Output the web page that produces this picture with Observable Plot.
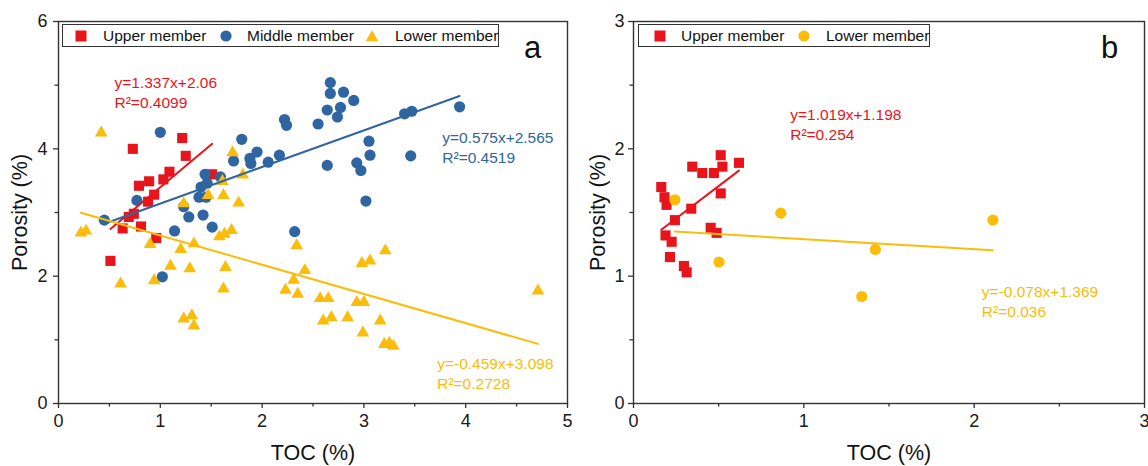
<!DOCTYPE html>
<html><head><meta charset="utf-8">
<script src="https://cdn.jsdelivr.net/npm/d3@7"></script>
<script src="https://cdn.jsdelivr.net/npm/@observablehq/plot@0.6"></script>
<style>
body{margin:0;background:#fff;font-family:"Liberation Sans",Arial,Helvetica,sans-serif;}
#wrap{position:relative;width:1148px;height:466px;display:flex;overflow:hidden;}
.legend{position:absolute;box-sizing:border-box;border:1.3px solid #333;height:23px;top:24px;background:#fff;}
.legend .sym{position:absolute;top:50%;transform:translate(-50%,-50%);display:block;}
.legend .lab{position:absolute;top:50%;transform:translateY(-52%);font-size:15.5px;color:#111;white-space:nowrap;line-height:1;}
</style></head><body><div id="wrap"></div>
<script>
// ---------- DATA ----------
// Panel a
const upperA_toc = [0.73,1.215,1.25,1.09,1.03,0.89,0.79,0.94,0.88,0.74,0.69,0.63,0.81,0.96,1.51,0.51];
const upperA_por = [4.00,4.17,3.89,3.64,3.52,3.49,3.42,3.28,3.17,2.98,2.93,2.75,2.78,2.60,3.60,2.24];
const middleA_toc = [1.00,0.45,0.77,1.02,1.14,1.23,1.28,1.42,1.51,1.38,1.45,1.40,1.46,1.44,1.59,1.72,1.80,1.88,1.89,1.95,2.06,2.17,2.22,2.24,2.55,2.64,2.67,2.67,2.74,2.77,2.80,2.90,2.64,2.93,2.97,3.02,3.05,3.06,3.40,3.47,3.46,3.94,2.32];
const middleA_por = [4.26,2.88,3.19,1.99,2.71,3.09,2.93,2.96,2.77,3.24,3.24,3.40,3.46,3.60,3.56,3.81,4.15,3.85,3.77,3.95,3.79,3.90,4.46,4.37,4.39,4.61,5.04,4.87,4.50,4.65,4.89,4.76,3.74,3.78,3.66,3.18,4.12,3.90,4.55,4.59,3.89,4.66,2.70];
const lowerA_toc = [0.42,0.22,0.27,0.61,0.90,0.94,1.10,1.20,1.29,1.33,1.23,1.31,1.33,1.58,1.63,1.70,1.64,1.62,1.23,1.77,1.71,1.81,1.61,1.62,1.47,2.34,2.42,2.31,2.23,2.35,2.57,2.65,2.93,3.00,2.60,2.68,2.84,3.16,2.98,3.06,3.21,2.99,3.20,3.25,3.29,4.71];
const lowerA_por = [4.25,2.68,2.71,1.88,2.50,1.93,2.16,2.42,2.12,2.51,1.33,1.38,1.22,2.62,2.66,2.72,2.14,1.80,3.14,3.15,3.94,3.59,3.49,3.27,3.27,2.48,2.09,1.94,1.78,1.72,1.65,1.65,1.59,1.59,1.30,1.35,1.35,1.30,2.20,2.24,2.40,1.11,0.93,0.95,0.90,1.77];
// Panel b
const upperB_toc = [0.163,0.182,0.194,0.345,0.404,0.472,0.512,0.522,0.619,0.512,0.339,0.243,0.453,0.488,0.188,0.224,0.214,0.296,0.312];
const upperB_por = [1.70,1.62,1.56,1.86,1.81,1.81,1.95,1.86,1.89,1.65,1.53,1.44,1.38,1.34,1.32,1.27,1.15,1.08,1.03];
const lowerB_toc = [0.243,0.502,0.865,1.34,1.42,2.11];
const lowerB_por = [1.60,1.11,1.495,0.84,1.21,1.44];

// Fits (as printed on the chart)
const fitA_slope = [1.337, 0.575, -0.459];
const fitA_intercept = [2.06, 2.565, 3.098];
const fitA_eq = ["y=1.337x+2.06", "y=0.575x+2.565", "y=-0.459x+3.098"];
const fitA_r2 = ["R²=0.4099", "R²=0.4519", "R²=0.2728"];
const fitA_labelX = [0.55, 3.77, 3.72];
const fitA_labelY = [4.895, 4.03, 0.484];
const fitB_slope = [1.019, -0.078];
const fitB_intercept = [1.198, 1.369];
const fitB_eq = ["y=1.019x+1.198", "y=-0.078x+1.369"];
const fitB_r2 = ["R²=0.254", "R²=0.036"];
const fitB_labelX = [0.92, 2.045];
const fitB_labelY = [2.197, 0.805];

// Tick values
const xTicksA = [0,1,2,3,4,5];
const xMinorA = [0.5,1.5,2.5,3.5,4.5];
const yTicksA = [0,2,4,6];
const yMinorA = [1,3,5];
const xTicksB = [0,1,2,3];
const xMinorB = [0.5,1.5,2.5];
const yTicksB = [0,1,2,3];
const yMinorB = [0.5,1.5,2.5];

// Legend labels
const legendA = ["Upper member","Middle member","Lower member"];
const legendB = ["Upper member","Lower member"];

// ---------- STYLE ----------
const RED="#e8141c", BLUE="#2f65a0", GOLD="#fbbc0a";
const FONT='"Liberation Sans", Arial, Helvetica, sans-serif';
const rows = (xs, ys) => xs.map((x,i)=>({x, y: ys[i]}));
const fmt = d => String(d);

function makePanel(cfg){
  const marks = [];
  marks.push(Plot.axisX(cfg.xMajor, {anchor:"bottom", tickSize:5, tickPadding:6, fontSize:18, fill:"#1a1a1a", stroke:"#333", strokeWidth:1.3, tickFormat:fmt, label:null}));
  marks.push(Plot.axisX(cfg.xMinor, {anchor:"bottom", tickSize:3.5, tickFormat:()=>"", stroke:"#333", strokeWidth:1.3, label:null}));
  marks.push(Plot.axisY(cfg.yMajor, {anchor:"left", tickSize:5, tickPadding:cfg.yPad, fontSize:18, fill:"#1a1a1a", stroke:"#333", strokeWidth:1.3, tickFormat:fmt, label:null}));
  marks.push(Plot.axisY(cfg.yMinor, {anchor:"left", tickSize:3.5, tickFormat:()=>"", stroke:"#333", strokeWidth:1.3, label:null}));
  for (const s of cfg.series) marks.push(Plot.dot(s.data, {x:"x", y:"y", symbol:s.symbol, fill:s.color, r:s.r, stroke:"none"}));
  for (const f of cfg.fits) {
    const [x0,x1] = d3.extent(f.data, d=>d.x);
    marks.push(Plot.line([x0,x1].map(x=>({x, y:f.slope*x+f.intercept})), {x:"x", y:"y", stroke:f.color, strokeWidth:2}));
    marks.push(Plot.text([f.eq + "\n" + f.r2], {x:f.lx, y:f.ly, text:d=>d, fill:f.color, fontSize:15.5, textAnchor:"start", lineAnchor:"middle", lineHeight:1.29}));
  }
  marks.push(Plot.frame({stroke:"#333", strokeWidth:1.4}));
  marks.push(Plot.text([cfg.letter], {frameAnchor:"top-right", dx:-35, dy:27, text:d=>d, fontSize:31, fill:"#111", textAnchor:"middle", lineAnchor:"middle"}));
  marks.push(Plot.text(["TOC (%)"], {frameAnchor:"bottom", dy:50, text:d=>d, fontSize:21.5, fill:"#111", textAnchor:"middle", lineAnchor:"middle"}));
  marks.push(Plot.text(["Porosity (%)"], {frameAnchor:"left", dx:cfg.yTitleDx, rotate:-90, text:d=>d, fontSize:21.5, fill:"#111", textAnchor:"middle", lineAnchor:"middle"}));
  return Plot.plot({
    width:574, height:466,
    marginLeft:cfg.ml, marginRight:cfg.mr, marginTop:21, marginBottom:63,
    x:{domain:cfg.xDomain, label:null},
    y:{domain:cfg.yDomain, label:null},
    style:{fontFamily:FONT, background:"transparent", overflow:"visible"},
    marks
  });
}

const upperA = rows(upperA_toc, upperA_por), middleA = rows(middleA_toc, middleA_por), lowerA = rows(lowerA_toc, lowerA_por);
const upperB = rows(upperB_toc, upperB_por), lowerB = rows(lowerB_toc, lowerB_por);
const seriesA = [upperA, middleA, lowerA], colorsA = [RED, BLUE, GOLD];
const seriesB = [upperB, lowerB], colorsB = [RED, GOLD];

const panelA = makePanel({
  xDomain:[0,5], yDomain:[0,6], xMajor:xTicksA, xMinor:xMinorA, yMajor:yTicksA, yMinor:yMinorA,
  ml:58, mr:7, yPad:6, yTitleDx:-38, letter:"a",
  series:[
    {data:upperA, symbol:"square", color:RED, r:5.7},
    {data:middleA, symbol:"circle", color:BLUE, r:5.6},
    {data:lowerA, symbol:"triangle", color:GOLD, r:4.7}
  ],
  fits: fitA_slope.map((s,i)=>({data:seriesA[i], slope:s, intercept:fitA_intercept[i], color:colorsA[i], eq:fitA_eq[i], r2:fitA_r2[i], lx:fitA_labelX[i], ly:fitA_labelY[i]}))
});
const panelB = makePanel({
  xDomain:[0,3], yDomain:[0,3], xMajor:xTicksB, xMinor:xMinorB, yMajor:yTicksB, yMinor:yMinorB,
  ml:59, mr:4, yPad:4, yTitleDx:-35, letter:"b",
  series:[
    {data:upperB, symbol:"square", color:RED, r:5.7},
    {data:lowerB, symbol:"circle", color:GOLD, r:5.6}
  ],
  fits: fitB_slope.map((s,i)=>({data:seriesB[i], slope:s, intercept:fitB_intercept[i], color:colorsB[i], eq:fitB_eq[i], r2:fitB_r2[i], lx:fitB_labelX[i], ly:fitB_labelY[i]}))
});
const wrap = document.getElementById("wrap");
wrap.append(panelA, panelB);

// ---------- LEGENDS (HTML overlay) ----------
function symSvg(kind, color){
  const ns="http://www.w3.org/2000/svg";
  const s=document.createElementNS(ns,"svg"); s.setAttribute("width","13"); s.setAttribute("height","13"); s.setAttribute("class","sym");
  let el;
  if(kind==="square"){ el=document.createElementNS(ns,"rect"); el.setAttribute("x","1"); el.setAttribute("y","1"); el.setAttribute("width","11"); el.setAttribute("height","11"); }
  else if(kind==="circle"){ el=document.createElementNS(ns,"circle"); el.setAttribute("cx","6.5"); el.setAttribute("cy","6.5"); el.setAttribute("r","5.6"); }
  else { el=document.createElementNS(ns,"path"); el.setAttribute("d","M6.5,0.8 L12.8,11.8 L0.2,11.8 Z"); }
  el.setAttribute("fill",color); s.append(el); return s;
}
function legend(left, width, items){
  const d=document.createElement("div"); d.className="legend"; d.style.left=left+"px"; d.style.width=width+"px";
  for(const it of items){
    const sv=symSvg(it.kind,it.color); sv.style.left=(it.sx-left)+"px"; d.append(sv);
    const l=document.createElement("span"); l.className="lab"; l.textContent=it.label; l.style.left=(it.tx-left)+"px"; d.append(l);
  }
  wrap.append(d);
}
legend(62, 437, [
  {kind:"square", color:RED, label:legendA[0], sx:80, tx:102},
  {kind:"circle", color:BLUE, label:legendA[1], sx:225, tx:246},
  {kind:"triangle", color:GOLD, label:legendA[2], sx:371, tx:394}
]);
legend(638, 292, [
  {kind:"square", color:RED, label:legendB[0], sx:659, tx:680},
  {kind:"circle", color:GOLD, label:legendB[1], sx:803, tx:825}
]);
</script></body></html>
